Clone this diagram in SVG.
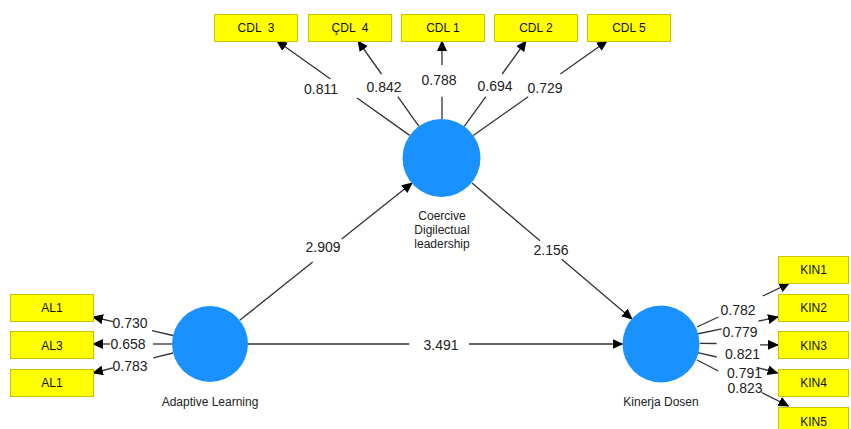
<svg xmlns="http://www.w3.org/2000/svg" width="851" height="429" viewBox="0 0 851 429">
<style>
.box{fill:#FFFF00;stroke:#C8C400;stroke-width:1}
.bt{font-family:"Liberation Sans",Arial,sans-serif;font-size:12px;fill:#111;text-anchor:middle}
.lv{fill:#1991FF}
.nt{font-family:"Liberation Sans",Arial,sans-serif;font-size:12px;fill:#222;text-anchor:middle}
.ln{stroke:#333;stroke-width:1.3;fill:none}
.lab{font-family:"Liberation Sans",Arial,sans-serif;font-size:14px;fill:#222;text-anchor:middle}
</style>
<defs>
<marker id="arr" markerUnits="userSpaceOnUse" markerWidth="11" markerHeight="10" refX="10" refY="5" orient="auto">
<path d="M0,0 L11,5 L0,10 Z" fill="#000"/>
</marker>
</defs>
<rect width="851" height="429" fill="#fff"/>

<g id="connectors">
<g id="c-cdl3"><path class="ln" d="M409.7,135.4 L357.1,98"/><path class="ln" marker-end="url(#arr)" d="M330.5,79 L277,41"/><text class="lab" x="321" y="94">0.811</text></g>
<g id="c-cdl4"><path class="ln" d="M418.8,126.2 L397.8,96.7"/><path class="ln" marker-end="url(#arr)" d="M381.5,74 L358,41"/><text class="lab" x="384" y="92">0.842</text></g>
<g id="c-cdl1"><path class="ln" d="M442,119 L442,96.7"/><path class="ln" marker-end="url(#arr)" d="M442,65 L442,41"/><text class="lab" x="439" y="85">0.788</text></g>
<g id="c-cdl2"><path class="ln" d="M464.3,126.4 L485.8,96.7"/><path class="ln" marker-end="url(#arr)" d="M502.2,74 L526,41"/><text class="lab" x="495" y="91">0.694</text></g>
<g id="c-cdl5"><path class="ln" d="M473.3,135.5 L528.2,96.7"/><path class="ln" marker-end="url(#arr)" d="M560.3,74 L607,41"/><text class="lab" x="545" y="93">0.729</text></g>

<g id="c-al1a"><path class="ln" d="M173,335.5 L152,330.6"/><path class="ln" marker-end="url(#arr)" d="M113,321.6 L93,317"/><text class="lab" x="130" y="328">0.730</text></g>
<g id="c-al3"><path class="ln" d="M172,344 L153,344"/><path class="ln" marker-end="url(#arr)" d="M110,344 L93,344"/><text class="lab" x="128" y="349">0.658</text></g>
<g id="c-al1b"><path class="ln" d="M173,353 L153.3,357.9"/><path class="ln" marker-end="url(#arr)" d="M113,367.9 L93,373"/><text class="lab" x="130" y="371">0.783</text></g>

<g id="c-al-cdl"><path class="ln" d="M239.7,320.3 L312.7,262.1"/><path class="ln" marker-end="url(#arr)" d="M341.7,239 L412,183"/><text class="lab" x="323" y="252">2.909</text></g>
<g id="c-cdl-kin"><path class="ln" d="M472,183 L540,240.8"/><path class="ln" marker-end="url(#arr)" d="M561.7,259.2 L632,319"/><text class="lab" x="551" y="255">2.156</text></g>
<g id="c-al-kin"><path class="ln" d="M248,344 L409.3,344"/><path class="ln" marker-end="url(#arr)" d="M469,344 L622.5,344"/><text class="lab" x="441" y="350">3.491</text></g>

<g id="c-kin1"><path class="ln" d="M697,327 L718.3,317"/><path class="ln" marker-end="url(#arr)" d="M762.7,296 L789.3,283.3"/><text class="lab" x="738" y="315">0.782</text></g>
<g id="c-kin2"><path class="ln" d="M697,334 L721.7,328.8"/><path class="ln" marker-end="url(#arr)" d="M758.3,321.2 L778,317"/><text class="lab" x="740" y="336.5">0.779</text></g>
<g id="c-kin3"><path class="ln" d="M700,343.3 L716.7,343.5"/><path class="ln" marker-end="url(#arr)" d="M760,344.8 L778,345"/><text class="lab" x="742.5" y="359">0.821</text></g>
<g id="c-kin4"><path class="ln" d="M697.7,352.7 L716.7,357"/><path class="ln" marker-end="url(#arr)" d="M756.7,367.3 L777.5,373"/><text class="lab" x="744.5" y="378">0.791</text></g>
<g id="c-kin5"><path class="ln" d="M697,360 L718.3,371"/><path class="ln" marker-end="url(#arr)" d="M761.7,392.5 L788.5,406"/><text class="lab" x="745" y="393">0.823</text></g>
</g>

<g id="cdl3"><rect class="box" x="214.5" y="14.5" width="83" height="27"/><text class="bt" x="256" y="32" xml:space="preserve">CDL  3</text></g>
<g id="cdl4"><rect class="box" x="308.5" y="14.5" width="83" height="27"/><text class="bt" x="350" y="32" xml:space="preserve">ÇDL  4</text></g>
<g id="cdl1"><rect class="box" x="401.5" y="14.5" width="83" height="27"/><text class="bt" x="443" y="32">CDL 1</text></g>
<g id="cdl2"><rect class="box" x="494.5" y="14.5" width="83" height="27"/><text class="bt" x="536" y="32">CDL 2</text></g>
<g id="cdl5"><rect class="box" x="587.5" y="14.5" width="83" height="27"/><text class="bt" x="629" y="32">CDL 5</text></g>

<g id="al1a"><rect class="box" x="10.5" y="294.5" width="83" height="27"/><text class="bt" x="52" y="312">AL1</text></g>
<g id="al3"><rect class="box" x="10.5" y="331.5" width="83" height="27"/><text class="bt" x="52" y="349.5">AL3</text></g>
<g id="al1b"><rect class="box" x="10.5" y="369.5" width="83" height="27"/><text class="bt" x="52" y="387">AL1</text></g>

<g id="kin1"><rect class="box" x="778.5" y="256.5" width="70" height="27"/><text class="bt" x="813.5" y="274">KIN1</text></g>
<g id="kin2"><rect class="box" x="778.5" y="294.5" width="70" height="27"/><text class="bt" x="813.5" y="312">KIN2</text></g>
<g id="kin3"><rect class="box" x="778.5" y="331.5" width="70" height="27"/><text class="bt" x="813.5" y="349.5">KIN3</text></g>
<g id="kin4"><rect class="box" x="778.5" y="369.5" width="70" height="27"/><text class="bt" x="813.5" y="387">KIN4</text></g>
<g id="kin5"><rect class="box" x="778.5" y="407.5" width="70" height="27"/><text class="bt" x="813.5" y="426">KIN5</text></g>

<g id="coercive"><circle class="lv" cx="441.5" cy="158" r="39"/><text class="nt" x="442" y="219.5">Coercive</text><text class="nt" x="442" y="233.5">Digilectual</text><text class="nt" x="442" y="247.5">leadership</text></g>
<g id="adaptive"><circle class="lv" cx="210" cy="344" r="38"/><text class="nt" x="210" y="406">Adaptive Learning</text></g>
<g id="kinerja"><circle class="lv" cx="661" cy="344" r="38.5"/><text class="nt" x="661" y="406">Kinerja Dosen</text></g>
</svg>
